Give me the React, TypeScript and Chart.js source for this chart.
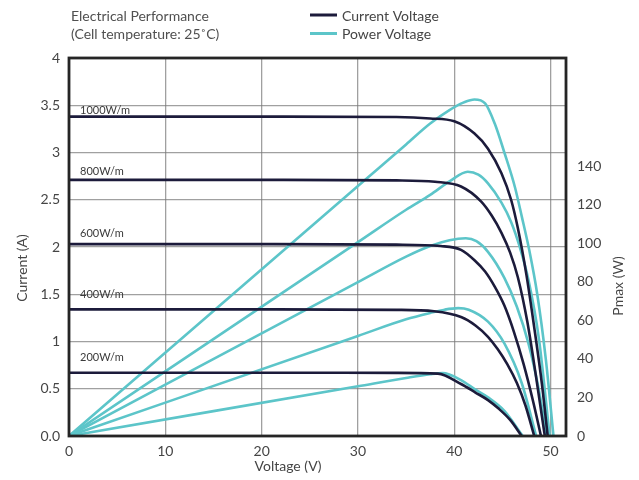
import { useEffect, useRef } from 'react';
import { Chart, registerables } from 'chart.js';

Chart.register(...registerables);

// ---- data ----
const titleLines = ['Electrical Performance', '(Cell temperature: 25˚C)'];
const legendLabels = ['Current Voltage', 'Power Voltage'];
const irradianceLabels = ['1000W/m', '800W/m', '600W/m', '400W/m', '200W/m'];

// Current-voltage curves (V, A)
const vI1000 = [0, 20, 34, 37.5, 40, 42.1, 43.5, 44.9, 45.9, 46.6, 47.5, 48.3, 49.1, 49.7];
const iI1000 = [3.38, 3.38, 3.375, 3.36, 3.33, 3.2, 3.04, 2.78, 2.5, 2.2, 1.7, 1.15, 0.55, 0];
const vI800 = [0, 20, 34, 38, 40.7, 42.8, 43.9, 44.9, 45.8, 46.6, 47.6, 48.5, 49.4];
const iI800 = [2.71, 2.71, 2.705, 2.69, 2.64, 2.48, 2.33, 2.15, 1.94, 1.68, 1.2, 0.62, 0];
const vI600 = [0, 20, 34, 38.6, 40.7, 42.1, 43.2, 44.2, 45.2, 46.2, 47.2, 48.2, 49.0];
const iI600 = [2.03, 2.03, 2.025, 2.01, 1.97, 1.86, 1.74, 1.58, 1.38, 1.1, 0.76, 0.36, 0];
const vI400 = [0, 20, 34, 37.9, 40.7, 42.2, 43.5, 44.5, 45.5, 46.5, 47.4, 48.3];
const iI400 = [1.34, 1.34, 1.335, 1.32, 1.26, 1.17, 1.05, 0.92, 0.76, 0.56, 0.32, 0];
const vI200 = [0, 20, 34, 38.3, 40.7, 42.2, 43.5, 44.6, 45.8, 47.0];
const iI200 = [0.67, 0.67, 0.668, 0.66, 0.55, 0.46, 0.38, 0.29, 0.17, 0];

// Power-voltage curves (V, W)
const vP1000 = [0, 30, 35, 37.5, 39.5, 41, 42.1, 43.2, 44.2, 45.2, 46.3, 47.0, 47.8, 48.6, 49.5, 50.3];
const pP1000 = [0, 129.6, 151.2, 162, 169, 173, 174.5, 172.5, 162, 147, 129, 114, 96, 74, 40, 0];
const vP800 = [0, 30, 35, 37.5, 39.5, 41.4, 42.5, 43.5, 44.9, 45.9, 46.8, 47.7, 48.8, 49.9];
const pP800 = [0, 100.5, 117.3, 125, 132, 137, 135.5, 131, 121, 111, 98, 81, 50, 0];
const vP600 = [0, 30, 35, 37.5, 39.5, 41.2, 42.3, 43.5, 45.2, 46.5, 47.7, 48.7, 49.6];
const pP600 = [0, 79.8, 93, 98.5, 101.5, 102.5, 101, 95.5, 82, 67, 48, 26, 0];
const vP400 = [0, 30, 35, 37.5, 39, 40.4, 41.5, 43.5, 45.2, 47, 48.5];
const pP400 = [0, 51.9, 60.5, 63.8, 65.5, 66.3, 65.5, 59.3, 48, 27.5, 0];
const vP200 = [0, 30, 35, 37.5, 38.8, 40.7, 42.2, 43.5, 45.2, 47.1];
const pP200 = [0, 25.8, 30.1, 32, 32.6, 29, 24, 20, 13, 0];

const xTickValues = [0, 10, 20, 30, 40, 50];
const currentTickValues = [0, 0.5, 1, 1.5, 2, 2.5, 3, 3.5, 4];
const powerTickValues = [0, 20, 40, 60, 80, 100, 120, 140];

const currentSeries = [
  [vI1000, iI1000],
  [vI800, iI800],
  [vI600, iI600],
  [vI400, iI400],
  [vI200, iI200],
];
const powerSeries = [
  [vP1000, pP1000],
  [vP800, pP800],
  [vP600, pP600],
  [vP400, pP400],
  [vP200, pP200],
];

// ---- styles ----
const DARK = '#1c1b3b';
const TEAL = '#5cc5c9';
const TEXT = '#454545';
const FONT = 'Lato, "Noto Sans", sans-serif';
const labelOffsetsPx = [3, 5, 7, 11, 12];

const toPoints = (xs: number[], ys: number[]) => xs.map((x, i) => ({ x, y: ys[i] }));
const setTicks = (vals: number[]) => (s: any) => { s.ticks = vals.map((value) => ({ value })); };

const overlayPlugin = {
  id: 'overlay',
  afterDraw(chart: any) {
    const { ctx, chartArea: ca, scales } = chart;
    const xs = scales.x;
    const ys = scales.y;
    ctx.save();
    // irradiance labels
    ctx.font = `11px ${FONT}`;
    ctx.fillStyle = '#3a3a3a';
    ctx.textAlign = 'left';
    ctx.textBaseline = 'alphabetic';
    irradianceLabels.forEach((t, i) => {
      const yCur = ys.getPixelForValue(currentSeries[i][1][0]);
      ctx.fillText(t, xs.getPixelForValue(0) + 11, yCur - labelOffsetsPx[i]);
    });

    // frame
    ctx.strokeStyle = '#252525';
    ctx.lineWidth = 2.8;
    ctx.strokeRect(ca.left, ca.top, ca.right - ca.left, ca.bottom - ca.top);

    // titles
    ctx.fillStyle = '#505050';
    ctx.font = `14px ${FONT}`;
    ctx.textBaseline = 'middle';
    ctx.fillText(titleLines[0], 71, 16);
    ctx.fillText(titleLines[1], 71, 34);

    // legend
    const colors = [DARK, TEAL];
    legendLabels.forEach((t, i) => {
      const y = 15 + i * 18.5;
      ctx.strokeStyle = colors[i];
      ctx.lineWidth = 3;
      ctx.beginPath();
      ctx.moveTo(310, y);
      ctx.lineTo(337, y);
      ctx.stroke();
      ctx.fillStyle = TEXT;
      ctx.fillText(t, 342, y + 1);
    });

    // axis titles
    ctx.fillStyle = TEXT;
    ctx.textAlign = 'center';
    ctx.fillText('Voltage (V)', 288, 466);
    ctx.save();
    ctx.translate(22, 268);
    ctx.rotate(-Math.PI / 2);
    ctx.fillText('Current (A)', 0, 0);
    ctx.restore();
    ctx.save();
    ctx.translate(618, 286);
    ctx.rotate(-Math.PI / 2);
    ctx.fillText('Pmax (W)', 0, 0);
    ctx.restore();
    ctx.restore();
  },
};

export default function App() {
  const ref = useRef<HTMLCanvasElement>(null);
  useEffect(() => {
    if (!ref.current) return;
    const datasets: any[] = [];
    currentSeries.forEach(([xs, ys]) => {
      datasets.push({
        data: toPoints(xs, ys),
        yAxisID: 'y',
        borderColor: DARK,
        borderWidth: 2.6,
        pointRadius: 0,
        fill: false,
        tension: 0.4,
        cubicInterpolationMode: 'monotone',
      });
    });
    powerSeries.forEach(([xs, ys]) => {
      datasets.push({
        data: toPoints(xs, ys),
        yAxisID: 'y2',
        borderColor: TEAL,
        borderWidth: 2.6,
        pointRadius: 0,
        fill: false,
        tension: 0.4,
        cubicInterpolationMode: 'monotone',
      });
    });
    const gridColor = 'rgba(120,120,120,0.7)';
    const chart = new Chart(ref.current, {
      type: 'line',
      data: { datasets },
      plugins: [overlayPlugin],
      options: {
        responsive: false,
        animation: false,
        layout: { padding: { top: 58, left: 0, right: 0, bottom: 0 } },
        plugins: { legend: { display: false }, tooltip: { enabled: false }, title: { display: false } },
        scales: {
          x: {
            type: 'linear',
            min: 0,
            max: 51.6,
            afterBuildTicks: setTicks(xTickValues),
            afterFit: (s: any) => { s.height = 44; },
            ticks: { autoSkip: false, maxRotation: 0, padding: 7, color: TEXT, font: { family: FONT, size: 14 } },
            grid: { color: gridColor, lineWidth: 1.3, drawTicks: false },
            border: { display: false },
          },
          y: {
            type: 'linear',
            position: 'left',
            min: 0,
            max: 4,
            afterBuildTicks: setTicks(currentTickValues),
            afterFit: (s: any) => { s.width = 69; },
            ticks: {
              autoSkip: false,
              padding: 9,
              color: TEXT,
              font: { family: FONT, size: 14 },
              callback: (v: any) => (v === 0 ? '0.0' : String(v)),
            },
            grid: { color: gridColor, lineWidth: 1.3, drawTicks: false },
            border: { display: false },
          },
          y2: {
            type: 'linear',
            position: 'right',
            min: 0,
            max: 196,
            afterBuildTicks: setTicks(powerTickValues),
            afterFit: (s: any) => { s.width = 73; },
            ticks: { autoSkip: false, padding: 11, color: TEXT, font: { family: FONT, size: 14 } },
            grid: { display: false, drawTicks: false },
            border: { display: false },
          },
        },
      },
    });
    return () => chart.destroy();
  }, []);
  return (
    <div style={{ position: 'fixed', left: 0, top: 0, width: 639, height: 480, background: '#fff' }}>
      <canvas ref={ref} width={639} height={480} />
    </div>
  );
}
